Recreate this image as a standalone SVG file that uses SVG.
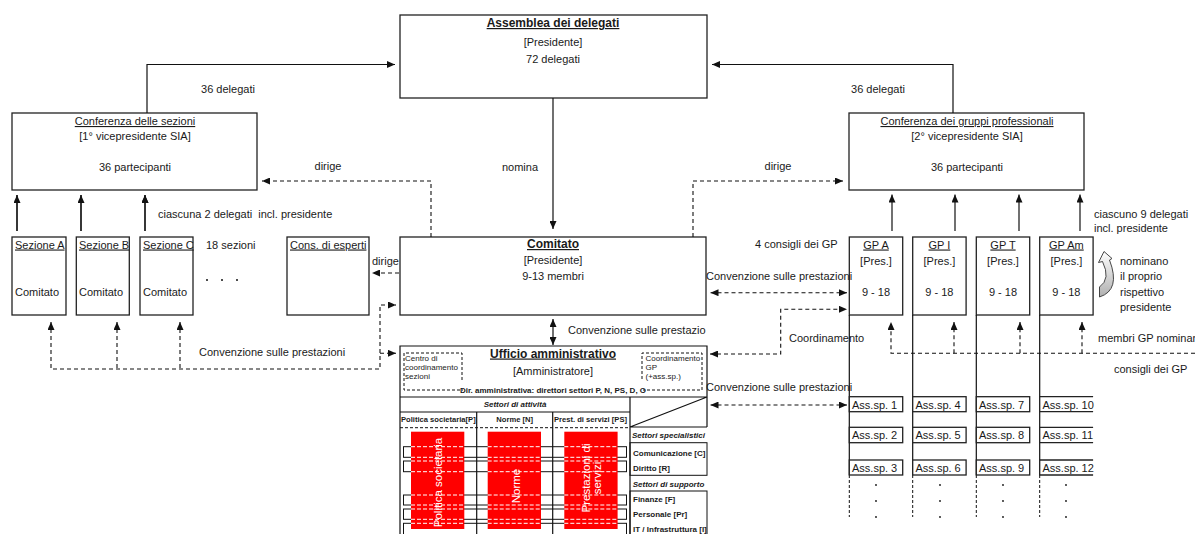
<svg xmlns="http://www.w3.org/2000/svg" width="1195" height="534" viewBox="0 0 1195 534">
<defs>
<style>
text{font-family:"Liberation Sans",Arial,sans-serif;font-size:11px;fill:#1a1a1a}
.c{text-anchor:middle}
.u{text-decoration:underline}
.h{font-size:12px;font-weight:bold;text-decoration:underline}
.sm{font-size:8px}
.sb{font-size:8px;font-weight:bold}
.hd{font-size:7.6px;font-weight:bold}
.si{font-size:8px;font-weight:bold;font-style:italic}
.wt{fill:#fff;font-size:11.5px}
.box{fill:#fff;stroke:#222;stroke-width:1.3}
.ln{fill:none;stroke:#111;stroke-width:1.2}
.tl{fill:none;stroke:#111;stroke-width:1}
.ds{fill:none;stroke:#111;stroke-width:1.1;stroke-dasharray:4 3}
.dt{fill:none;stroke:#111;stroke-width:1;stroke-dasharray:3 2}
.wd{fill:none;stroke:#fff;stroke-width:1;stroke-dasharray:4 2}
.red{fill:#f00}
.dot{fill:#111}
</style>
<marker id="ah" viewBox="0 0 10 10" refX="10" refY="5" markerWidth="8" markerHeight="7" preserveAspectRatio="none" orient="auto-start-reverse" markerUnits="userSpaceOnUse">
<path d="M0,0 L10,5 L0,10 Z" fill="#111"/>
</marker>
<linearGradient id="cg" x1="0" y1="0" x2="0" y2="1">
<stop offset="0" stop-color="#fff"/>
<stop offset="1" stop-color="#b0b0b0"/>
</linearGradient>
<!-- white dashed edges of the sector bars where they cross a red block -->
<path id="bars-w" class="wd" d="M0,446.7h53.3M0,457.3h53.3M0,461h53.3M0,471.7h53.3M0,495h53.3M0,505h53.3M0,509h53.3M0,519.3h53.3M0,523.3h53.3"/>
</defs>

<rect width="1195" height="534" fill="#fff"/>

<!-- assembly -->
<g id="assemblea">
<rect class="box" x="400" y="15" width="307" height="83"/>
<text class="c h" x="553" y="27">Assemblea dei delegati</text>
<text class="c" x="553" y="46">[Presidente]</text>
<text class="c" x="553" y="63">72 delegati</text>
</g>

<g id="conf-sezioni">
<rect class="box" x="12" y="113" width="245" height="77"/>
<text class="c u" x="135" y="125">Conferenza delle sezioni</text>
<text class="c" x="135" y="140">[1° vicepresidente SIA]</text>
<text class="c" x="135" y="171">36 partecipanti</text>
</g>

<g id="conf-gp">
<rect class="box" x="849" y="113" width="235" height="77"/>
<text class="c u" x="967" y="125">Conferenza dei gruppi professionali</text>
<text class="c" x="967" y="140">[2° vicepresidente SIA]</text>
<text class="c" x="967" y="171">36 partecipanti</text>
</g>

<g id="sezione-a">
<rect class="box" x="12" y="237" width="54" height="78"/>
<text class="u" x="15" y="248.5">Sezione A</text>
<text x="15" y="296">Comitato</text>
</g>
<g id="sezione-b">
<rect class="box" x="76.3" y="237" width="53" height="78"/>
<text class="u" x="79" y="248.5">Sezione B</text>
<text x="79" y="296">Comitato</text>
</g>
<g id="sezione-c">
<rect class="box" x="140" y="237" width="53" height="78"/>
<text class="u" x="143" y="248.5">Sezione C</text>
<text x="143" y="296">Comitato</text>
</g>
<g id="altre-sezioni">
<text x="206" y="248.5">18 sezioni</text>
<circle class="dot" cx="207" cy="280" r="1"/>
<circle class="dot" cx="222" cy="280" r="1"/>
<circle class="dot" cx="237" cy="280" r="1"/>
</g>

<g id="cons-esperti">
<rect class="box" x="287" y="237" width="82" height="78"/>
<text class="u" x="290" y="248.5">Cons. di esperti</text>
</g>

<g id="comitato">
<rect class="box" x="400" y="237" width="306" height="78"/>
<text class="c h" x="553" y="248">Comitato</text>
<text class="c" x="553" y="264">[Presidente]</text>
<text class="c" x="553" y="280">9-13 membri</text>
</g>

<!-- administrative office with the sector table -->
<g id="ufficio">
<rect x="400" y="346" width="307" height="190" fill="#fff"/>
<path class="ln" d="M400,536 V346 H707 V427"/>
<path class="dt" d="M462,380 V353 H404 V390 H702 V353 H642 V380"/>
<text class="c h" x="553" y="357.5">Ufficio amministrativo</text>
<text class="c" x="553" y="375">[Amministratore]</text>
<text class="sm" x="405" y="361">Centro di</text>
<text class="sm" x="405" y="370">coordinamento</text>
<text class="sm" x="405" y="379">sezioni</text>
<text class="sm" x="645.5" y="361">Coordinamento</text>
<text class="sm" x="645.5" y="370">GP</text>
<text class="sm" x="645.5" y="379">(+ass.sp.)</text>
<rect x="463" y="386" width="180" height="9" fill="#fff"/>
<text class="c sm" x="553" y="393" font-weight="bold" font-size="7.5">Dir. amministrativa: direttori settori P, N, PS, D, O</text>

<path class="ln" d="M400,397 H707 M400,412 H630 M630,397 V536 M630,427 H707 M630,427 L707,397"/>
<text class="c si" x="515" y="406.7">Settori di attività</text>
<text class="hd" x="401" y="422.3">Politica societaria[P]</text>
<text class="c hd" x="514.7" y="422.3">Norme [N]</text>
<text class="hd" x="554" y="422.3">Prest. di servizi [PS]</text>
<path class="dt" d="M400,427.7 H630"/>

<g class="tl">
<rect x="403.5" y="446.7" width="223" height="10.6"/>
<rect x="403.5" y="461" width="223" height="10.7"/>
<rect x="403.5" y="495" width="223" height="10"/>
<rect x="403.5" y="509" width="223" height="10.3"/>
<rect x="403.5" y="523.3" width="223" height="14"/>
</g>
<path class="ln" d="M476.7,412 V536 M552.7,412 V536"/>

<rect class="red" x="411" y="431.7" width="53.3" height="97.3"/>
<rect class="red" x="487.7" y="431.7" width="53.3" height="97.3"/>
<rect class="red" x="564.3" y="431.7" width="53.3" height="97.3"/>
<use href="#bars-w" x="411"/>
<use href="#bars-w" x="487.7"/>
<use href="#bars-w" x="564.3"/>
<text class="c wt" transform="translate(441.7,482.5) rotate(-90)">Politica societaria</text>
<text class="c wt" transform="translate(519.5,486) rotate(-90)">Norme</text>
<text class="c wt" transform="translate(590,478) rotate(-90)">Prestazioni di</text>
<text class="c wt" transform="translate(601,478) rotate(-90)">servizi</text>

<text class="c si" x="668.5" y="438.3">Settori specialistici</text>
<rect class="tl" x="630" y="442.7" width="77" height="32.6" stroke-width="1.2"/>
<text class="sb" x="633" y="456">Comunicazione [C]</text>
<text class="sb" x="633" y="470.5">Diritto [R]</text>
<text class="c si" x="668.5" y="486.7">Settori di supporto</text>
<rect class="tl" x="630" y="491" width="77" height="50" stroke-width="1.2"/>
<text class="sb" x="633" y="501.7">Finanze [F]</text>
<text class="sb" x="633" y="516.7">Personale [Pr]</text>
<text class="sb" x="633" y="532.3">IT / Infrastruttura [I]</text>
</g>

<!-- professional groups -->
<g id="gp-a">
<rect class="box" x="849.3" y="237" width="53.4" height="78"/>
<text class="c u" x="876" y="248.5">GP A</text>
<text class="c" x="876" y="265">[Pres.]</text>
<text class="c" x="876" y="296">9 - 18</text>
</g>
<g id="gp-i">
<rect class="box" x="912.7" y="237" width="53.4" height="78"/>
<text class="c u" x="939.4" y="248.5">GP I</text>
<text class="c" x="939.4" y="265">[Pres.]</text>
<text class="c" x="939.4" y="296">9 - 18</text>
</g>
<g id="gp-t">
<rect class="box" x="976.3" y="237" width="53.4" height="78"/>
<text class="c u" x="1003" y="248.5">GP T</text>
<text class="c" x="1003" y="265">[Pres.]</text>
<text class="c" x="1003" y="296">9 - 18</text>
</g>
<g id="gp-am">
<rect class="box" x="1039.7" y="237" width="53.4" height="78"/>
<text class="c u" x="1066.4" y="248.5">GP Am</text>
<text class="c" x="1066.4" y="265">[Pres.]</text>
<text class="c" x="1066.4" y="296">9 - 18</text>
</g>

<!-- specialist assemblies under each group -->
<g id="ass-sp">
<path class="ln" d="M849.3,315 V475 M912.7,315 V475 M976.3,315 V475 M1039.7,315 V475"/>
<path class="dt" d="M849.3,475 V517 M912.7,475 V517 M976.3,475 V517 M1039.7,475 V517"/>
<g class="box">
<rect x="849.3" y="396.7" width="53.4" height="15"/>
<rect x="849.3" y="427.3" width="53.4" height="15.4"/>
<rect x="849.3" y="460" width="53.4" height="15"/>
<rect x="912.7" y="396.7" width="53.4" height="15"/>
<rect x="912.7" y="427.3" width="53.4" height="15.4"/>
<rect x="912.7" y="460" width="53.4" height="15"/>
<rect x="976.3" y="396.7" width="53.4" height="15"/>
<rect x="976.3" y="427.3" width="53.4" height="15.4"/>
<rect x="976.3" y="460" width="53.4" height="15"/>
</g>
<path class="box" d="M1093.1,396.7 H1039.7 V411.7 H1093.1 M1093.1,427.3 H1039.7 V442.7 H1093.1 M1093.1,460 H1039.7 V475 H1093.1"/>
<text x="852" y="408.5">Ass.sp. 1</text>
<text x="852" y="439">Ass.sp. 2</text>
<text x="852" y="471.5">Ass.sp. 3</text>
<text x="915.5" y="408.5">Ass.sp. 4</text>
<text x="915.5" y="439">Ass.sp. 5</text>
<text x="915.5" y="471.5">Ass.sp. 6</text>
<text x="979" y="408.5">Ass.sp. 7</text>
<text x="979" y="439">Ass.sp. 8</text>
<text x="979" y="471.5">Ass.sp. 9</text>
<text x="1042.5" y="408.5">Ass.sp. 10</text>
<text x="1042.5" y="439">Ass.sp. 11</text>
<text x="1042.5" y="471.5">Ass.sp. 12</text>
<g class="dot">
<circle cx="876" cy="485" r="0.9"/><circle cx="876" cy="501" r="0.9"/><circle cx="876" cy="517" r="0.9"/>
<circle cx="940" cy="485" r="0.9"/><circle cx="940" cy="501" r="0.9"/><circle cx="940" cy="517" r="0.9"/>
<circle cx="1003" cy="485" r="0.9"/><circle cx="1003" cy="501" r="0.9"/><circle cx="1003" cy="517" r="0.9"/>
<circle cx="1066" cy="485" r="0.9"/><circle cx="1066" cy="501" r="0.9"/><circle cx="1066" cy="517" r="0.9"/>
</g>
</g>

<!-- curved arrow: groups name their own president -->
<g id="nomina-presidente">
<path d="M1099.5,297 Q1121,290 1109.5,260 L1112,258.5 L1104,251.5 L1098.5,262.5 L1102.5,261.5 Q1111,279 1099.5,287 Z" fill="url(#cg)" stroke="#333" stroke-width="0.9"/>
<text x="1120" y="265">nominano</text>
<text x="1120" y="280">il proprio</text>
<text x="1120" y="296">rispettivo</text>
<text x="1120" y="311">presidente</text>
</g>

<!-- connectors -->
<g id="connectors">
<path class="ln" d="M147,113 V64.5 H395" marker-end="url(#ah)"/>
<path class="ln" d="M953,113 V64.5 H712" marker-end="url(#ah)"/>
<path class="ln" d="M553,98 V229" marker-end="url(#ah)"/>
<path class="ln" d="M17,231 V195 M81,231 V195 M145,231 V195" marker-end="url(#ah)"/>
<path class="ln" d="M17,231 V195" marker-end="url(#ah)"/>
<path class="ln" d="M81,231 V195" marker-end="url(#ah)"/>
<path class="ln" d="M145,231 V195" marker-end="url(#ah)"/>
<path class="ln" d="M892,231 V194.5" marker-end="url(#ah)"/>
<path class="ln" d="M955,231 V194.5" marker-end="url(#ah)"/>
<path class="ln" d="M1019,231 V194.5" marker-end="url(#ah)"/>
<path class="ln" d="M1080,231 V194.5" marker-end="url(#ah)"/>
<path class="ds" d="M431,237 V181 H262" marker-end="url(#ah)"/>
<path class="ds" d="M693,237 V181 H843" marker-end="url(#ah)"/>
<path class="ds" d="M399,273 H372" marker-end="url(#ah)"/>
<path class="ds" d="M51,322 V369 H380 V305 H396" marker-start="url(#ah)" marker-end="url(#ah)"/>
<path class="ds" d="M117,322 V369" marker-start="url(#ah)"/>
<path class="ds" d="M180,322 V369" marker-start="url(#ah)"/>
<path class="ds" d="M380,353.3 H396" marker-end="url(#ah)"/>
<path class="ln" d="M553,319 V345" marker-start="url(#ah)" marker-end="url(#ah)"/>
<path class="ds" d="M710.5,292.7 H847" marker-start="url(#ah)" marker-end="url(#ah)"/>
<path class="ds" d="M710,354 H780.7 V309.3 H847" marker-start="url(#ah)" marker-end="url(#ah)"/>
<path class="ds" d="M710.5,405 H847" marker-start="url(#ah)" marker-end="url(#ah)"/>
<path class="ds" d="M1195,353.3 H891 V322" marker-end="url(#ah)"/>
<path class="ds" d="M954,353.3 V322" marker-end="url(#ah)"/>
<path class="ds" d="M1020,353.3 V322" marker-end="url(#ah)"/>
<path class="ds" d="M1082,353.3 V322" marker-end="url(#ah)"/>

<text class="c" x="228" y="93">36 delegati</text>
<text class="c" x="878" y="93">36 delegati</text>
<text class="c" x="520" y="171">nomina</text>
<text class="c" x="328" y="170">dirige</text>
<text class="c" x="778" y="170">dirige</text>
<text x="372" y="265">dirige</text>
<text x="158" y="218" style="white-space:pre">ciascuna 2 delegati  incl. presidente</text>
<text x="1094" y="218">ciascuno 9 delegati</text>
<text x="1094" y="232">incl. presidente</text>
<text x="755" y="248">4 consigli dei GP</text>
<text x="199" y="356">Convenzione sulle prestazioni</text>
<text x="568" y="334">Convenzione sulle prestazio</text>
<text x="706" y="280">Convenzione sulle prestazioni</text>
<text x="789" y="342">Coordinamento</text>
<text x="706" y="391">Convenzione sulle prestazioni</text>
<text x="1098" y="342">membri GP nominano</text>
<text x="1114" y="373">consigli dei GP</text>
</g>
</svg>
